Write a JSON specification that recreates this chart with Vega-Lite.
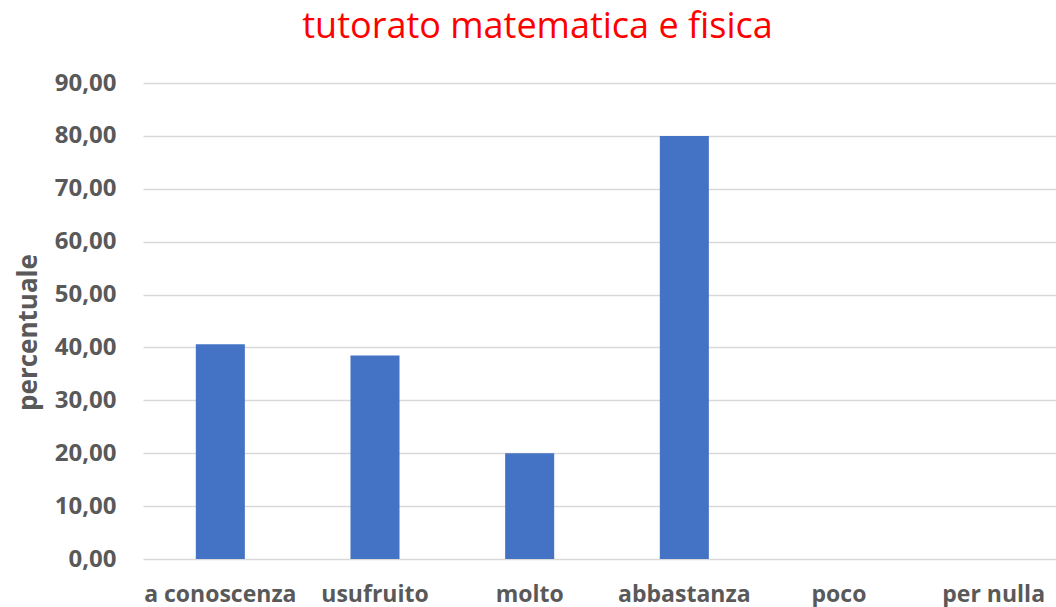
{
  "$schema": "https://vega.github.io/schema/vega-lite/v6.json",
  "width": 913,
  "height": 476,
  "autosize": {"type": "none"},
  "padding": {"left": 143, "top": 83, "right": 0, "bottom": 48},
  "background": "white",
  "title": {
    "text": "tutorato matematica e fisica",
    "color": "#ff0000",
    "font": "Open Sans",
    "fontSize": 36,
    "fontWeight": "normal",
    "anchor": "middle",
    "dx": -62,
    "frame": "group",
    "offset": 25
  },
  "data": {
    "values": [
      {"categoria": "a conoscenza", "percentuale": 40.6},
      {"categoria": "usufruito", "percentuale": 38.5},
      {"categoria": "molto", "percentuale": 20.0},
      {"categoria": "abbastanza", "percentuale": 80.0},
      {"categoria": "poco", "percentuale": 0},
      {"categoria": "per nulla", "percentuale": 0}
    ]
  },
  "mark": {"type": "bar", "color": "#4472C4"},
  "encoding": {
    "x": {
      "field": "categoria",
      "type": "nominal",
      "sort": null,
      "scale": {"range": [0, 928], "paddingInner": 0.683, "paddingOuter": 0.3415},
      "axis": {
        "title": null,
        "labelAngle": 0,
        "labelFont": "Open Sans",
        "labelFontSize": 23,
        "labelFontWeight": "bold",
        "labelColor": "#595959",
        "labelPadding": 24,
        "ticks": false,
        "domain": false,
        "grid": false
      }
    },
    "y": {
      "field": "percentuale",
      "type": "quantitative",
      "scale": {"domain": [0, 90], "nice": false},
      "axis": {
        "values": [0, 10, 20, 30, 40, 50, 60, 70, 80, 90],
        "labelExpr": "replace(format(datum.value, '.2f'), '.', ',')",
        "labelFont": "Open Sans",
        "labelFontSize": 24,
        "labelFontWeight": "bold",
        "labelColor": "#595959",
        "labelPadding": 27,
        "ticks": false,
        "domain": false,
        "grid": true,
        "gridColor": "#d9d9d9",
        "gridWidth": 1.5,
        "title": "percentuale",
        "titleFont": "Open Sans",
        "titleFontSize": 26,
        "titleFontWeight": "bold",
        "titleColor": "#595959",
        "titleAngle": -90,
        "titleX": -115,
        "titleY": 249,
        "titleAlign": "center",
        "titleBaseline": "middle"
      }
    }
  },
  "config": {"view": {"stroke": null}}
}
